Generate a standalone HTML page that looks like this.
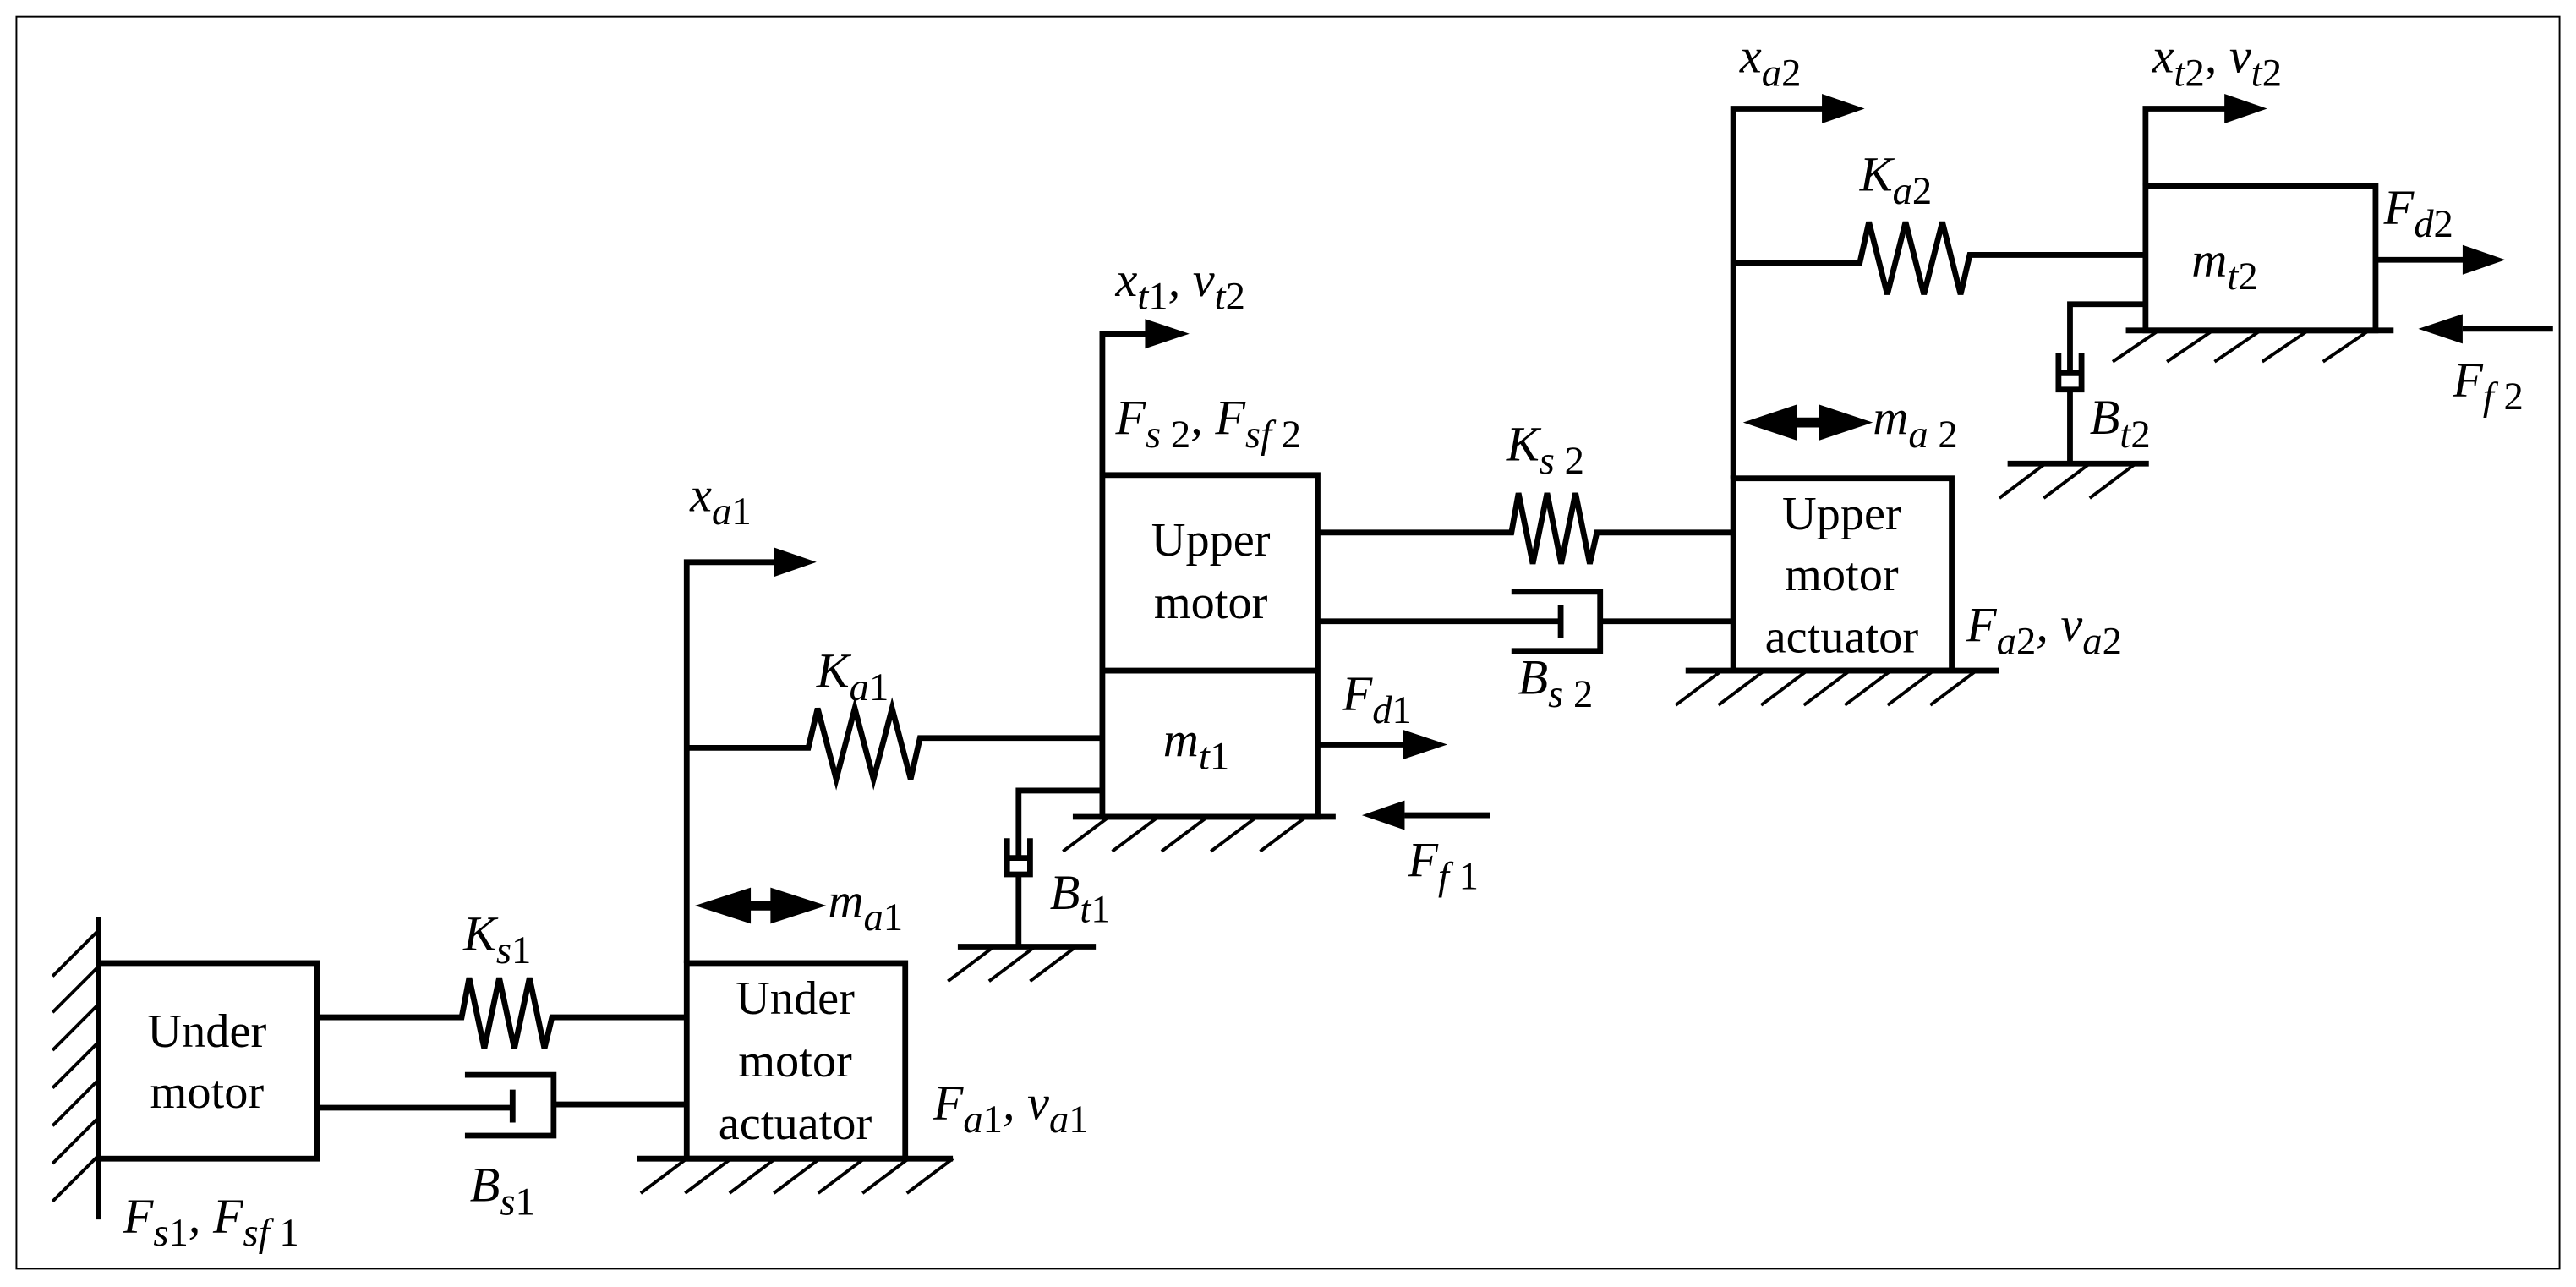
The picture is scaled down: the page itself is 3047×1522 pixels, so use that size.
<!DOCTYPE html>
<html><head><meta charset="utf-8"><style>
html,body{margin:0;padding:0;background:#fff;}
svg{display:block;}
</style></head><body>
<svg width="3047" height="1522" viewBox="0 0 1568 783" xmlns="http://www.w3.org/2000/svg" font-family="'Liberation Serif', 'Times New Roman', serif">
<rect x="0" y="0" width="1568" height="783" fill="#fff"/>
<rect x="10" y="10" width="1548" height="762" fill="none" stroke="#000" stroke-width="1"/>
<g fill="none" stroke="#000" stroke-width="3.5" stroke-linejoin="miter">
<line x1="60" y1="558" x2="60" y2="742"/>
<rect x="60" y="586" width="133" height="119"/>
<polyline points="193,619 281,619 285.6,595 294.8,638 303.9,595 313.1,638 322.3,595 331.4,638 336,619 418,619"/>
<line x1="193" y1="674" x2="312" y2="674"/>
<line x1="312" y1="663" x2="312" y2="683"/>
<polyline points="283,654 337,654 337,691 283,691"/>
<line x1="337" y1="672" x2="418" y2="672"/>
<rect x="418" y="586" width="133" height="119"/>
<line x1="388" y1="705" x2="580" y2="705"/>
<polyline points="418,586 418,342 471,342"/>
<polyline points="418,455 492,455 497.7,431 509,474 520.3,431 531.7,474 543,431 554.3,474 560,449 671,449"/>
<rect x="671" y="289" width="131" height="208"/>
<line x1="671" y1="408" x2="802" y2="408"/>
<polyline points="671,289 671,203 698,203"/>
<line x1="653" y1="497" x2="813" y2="497"/>
<polyline points="671,481 620,481 620,522"/>
<line x1="614" y1="522" x2="626" y2="522"/>
<polyline points="613,510 613,532 627,532 627,510"/>
<line x1="620" y1="532" x2="620" y2="576"/>
<line x1="583" y1="576" x2="667" y2="576"/>
<line x1="802" y1="453" x2="856" y2="453"/>
<line x1="855" y1="496" x2="907" y2="496"/>
<polyline points="802,324 920,324 924.3,300 933,343 941.7,300 950.3,343 959,300 967.7,343 972,324 1055,324"/>
<line x1="802" y1="378" x2="950" y2="378"/>
<line x1="950" y1="368" x2="950" y2="388"/>
<polyline points="920,360 974,360 974,396 920,396"/>
<line x1="974" y1="378" x2="1055" y2="378"/>
<rect x="1055" y="291" width="133" height="117"/>
<line x1="1026" y1="408" x2="1217" y2="408"/>
<polyline points="1055,291 1055,66 1110,66"/>
<polyline points="1055,160 1132,160 1137.6,135 1148.8,179 1159.9,135 1171.1,179 1182.3,135 1193.4,179 1199,155 1306,155"/>
<rect x="1306" y="113" width="140" height="88"/>
<polyline points="1306,113 1306,66 1355,66"/>
<line x1="1294" y1="201" x2="1457" y2="201"/>
<polyline points="1306,185 1260,185 1260,227"/>
<line x1="1254" y1="227" x2="1266" y2="227"/>
<polyline points="1253,215 1253,237 1267,237 1267,215"/>
<line x1="1260" y1="237" x2="1260" y2="282"/>
<line x1="1222" y1="282" x2="1308" y2="282"/>
<line x1="1446" y1="158" x2="1500" y2="158"/>
<line x1="1499" y1="200" x2="1554" y2="200"/>
</g>
<g stroke="#000" stroke-width="2">
<line x1="60" y1="588" x2="32" y2="616"/><line x1="60" y1="611" x2="32" y2="639"/><line x1="60" y1="634" x2="32" y2="662"/><line x1="60" y1="657" x2="32" y2="685"/><line x1="60" y1="680" x2="32" y2="708"/><line x1="60" y1="703" x2="32" y2="731"/><line x1="60" y1="566" x2="32" y2="594"/>
<line x1="418" y1="705" x2="390" y2="726"/><line x1="445" y1="705" x2="417" y2="726"/><line x1="472" y1="705" x2="444" y2="726"/><line x1="499" y1="705" x2="471" y2="726"/><line x1="526" y1="705" x2="498" y2="726"/><line x1="553" y1="705" x2="525" y2="726"/><line x1="580" y1="705" x2="552" y2="726"/>
<line x1="675" y1="497" x2="647" y2="518"/><line x1="705" y1="497" x2="677" y2="518"/><line x1="735" y1="497" x2="707" y2="518"/><line x1="765" y1="497" x2="737" y2="518"/><line x1="795" y1="497" x2="767" y2="518"/>
<line x1="605" y1="576" x2="577" y2="597"/><line x1="630" y1="576" x2="602" y2="597"/><line x1="655" y1="576" x2="627" y2="597"/>
<line x1="1048" y1="408" x2="1020" y2="429"/><line x1="1074" y1="408" x2="1046" y2="429"/><line x1="1100" y1="408" x2="1072" y2="429"/><line x1="1126" y1="408" x2="1098" y2="429"/><line x1="1151" y1="408" x2="1123" y2="429"/><line x1="1177" y1="408" x2="1149" y2="429"/><line x1="1203" y1="408" x2="1175" y2="429"/>
<line x1="1314" y1="201" x2="1286" y2="220"/><line x1="1347" y1="201" x2="1319" y2="220"/><line x1="1376" y1="201" x2="1348" y2="220"/><line x1="1405" y1="201" x2="1377" y2="220"/><line x1="1442" y1="201" x2="1414" y2="220"/>
<line x1="1245" y1="282" x2="1217" y2="303"/><line x1="1272" y1="282" x2="1244" y2="303"/><line x1="1300" y1="282" x2="1272" y2="303"/>
</g>
<g fill="#000">
<polygon points="471,333 497,342 471,351"/>
<polygon points="697,194 724,203 697,212"/>
<polygon points="1109,57 1135,66 1109,75"/>
<polygon points="1354,57 1380,66 1354,75"/>
<polygon points="854,444 881,453 854,462"/>
<polygon points="855,487 829,496 855,505"/>
<polygon points="1499,149 1525,158 1499,167"/>
<polygon points="1499,191 1472,200 1499,209"/>
<polygon points="423,551 457,540 457,548 469,548 469,540 503,551 469,562 469,554 457,554 457,562"/>
<polygon points="1061,257 1094,246 1094,254 1107,254 1107,246 1140,257 1107,268 1107,260 1094,260 1094,268"/>
</g>
<g font-size="29" text-anchor="middle" fill="#000">
<text x="126" y="637">Under</text><text x="126" y="674">motor</text>
<text x="484" y="617">Under</text><text x="484" y="655">motor</text><text x="484" y="693">actuator</text>
<text x="737" y="338">Upper</text><text x="737" y="376">motor</text>
<text x="1121" y="322">Upper</text><text x="1121" y="359">motor</text><text x="1121" y="397">actuator</text>
</g>
<g font-style="italic" font-size="30" fill="#000">
<text x="420" y="311">x<tspan dy="8" font-size="24">a</tspan><tspan font-size="24" font-style="normal">1</tspan></text>
<text x="497" y="418">K<tspan dy="8" font-size="24">a</tspan><tspan font-size="24" font-style="normal">1</tspan></text>
<text x="504" y="558">m<tspan dy="8" font-size="24">a</tspan><tspan font-size="24" font-style="normal">1</tspan></text>
<text x="282" y="578">K<tspan dy="8" font-size="24">s</tspan><tspan font-size="24" font-style="normal">1</tspan></text>
<text x="286" y="731">B<tspan dy="8" font-size="24">s</tspan><tspan font-size="24" font-style="normal">1</tspan></text>
<text x="75" y="750">F<tspan dy="8" font-size="24">s</tspan><tspan font-size="24" font-style="normal">1</tspan><tspan dy="-8">, F</tspan><tspan dy="8" font-size="24">sf</tspan><tspan font-size="24" font-style="normal"> 1</tspan></text>
<text x="568" y="681">F<tspan dy="8" font-size="24">a</tspan><tspan font-size="24" font-style="normal">1</tspan><tspan dy="-8">, v</tspan><tspan dy="8" font-size="24">a</tspan><tspan font-size="24" font-style="normal">1</tspan></text>
<text x="708" y="460">m<tspan dy="8" font-size="24">t</tspan><tspan font-size="24" font-style="normal">1</tspan></text>
<text x="817" y="432">F<tspan dy="8" font-size="24">d</tspan><tspan font-size="24" font-style="normal">1</tspan></text>
<text x="857" y="533">F<tspan dy="8" font-size="24">f</tspan><tspan font-size="24" font-style="normal"> 1</tspan></text>
<text x="639" y="553">B<tspan dy="8" font-size="24">t</tspan><tspan font-size="24" font-style="normal">1</tspan></text>
<text x="679" y="180">x<tspan dy="8" font-size="24">t</tspan><tspan font-size="24" font-style="normal">1</tspan><tspan dy="-8">, v</tspan><tspan dy="8" font-size="24">t</tspan><tspan font-size="24" font-style="normal">2</tspan></text>
<text x="679" y="264">F<tspan dy="8" font-size="24">s</tspan><tspan font-size="24" font-style="normal"> 2</tspan><tspan dy="-8">, F</tspan><tspan dy="8" font-size="24">sf</tspan><tspan font-size="24" font-style="normal"> 2</tspan></text>
<text x="917" y="280">K<tspan dy="8" font-size="24">s</tspan><tspan font-size="24" font-style="normal"> 2</tspan></text>
<text x="924" y="422">B<tspan dy="8" font-size="24">s</tspan><tspan font-size="24" font-style="normal"> 2</tspan></text>
<text x="1140" y="264">m<tspan dy="8" font-size="24">a</tspan><tspan font-size="24" font-style="normal"> 2</tspan></text>
<text x="1197" y="390">F<tspan dy="8" font-size="24">a</tspan><tspan font-size="24" font-style="normal">2</tspan><tspan dy="-8">, v</tspan><tspan dy="8" font-size="24">a</tspan><tspan font-size="24" font-style="normal">2</tspan></text>
<text x="1059" y="44">x<tspan dy="8" font-size="24">a</tspan><tspan font-size="24" font-style="normal">2</tspan></text>
<text x="1310" y="44">x<tspan dy="8" font-size="24">t</tspan><tspan font-size="24" font-style="normal">2</tspan><tspan dy="-8">, v</tspan><tspan dy="8" font-size="24">t</tspan><tspan font-size="24" font-style="normal">2</tspan></text>
<text x="1132" y="116">K<tspan dy="8" font-size="24">a</tspan><tspan font-size="24" font-style="normal">2</tspan></text>
<text x="1334" y="168">m<tspan dy="8" font-size="24">t</tspan><tspan font-size="24" font-style="normal">2</tspan></text>
<text x="1451" y="136">F<tspan dy="8" font-size="24">d</tspan><tspan font-size="24" font-style="normal">2</tspan></text>
<text x="1272" y="264">B<tspan dy="8" font-size="24">t</tspan><tspan font-size="24" font-style="normal">2</tspan></text>
<text x="1493" y="241">F<tspan dy="8" font-size="24">f</tspan><tspan font-size="24" font-style="normal"> 2</tspan></text>
</g>
</svg>
</body></html>
